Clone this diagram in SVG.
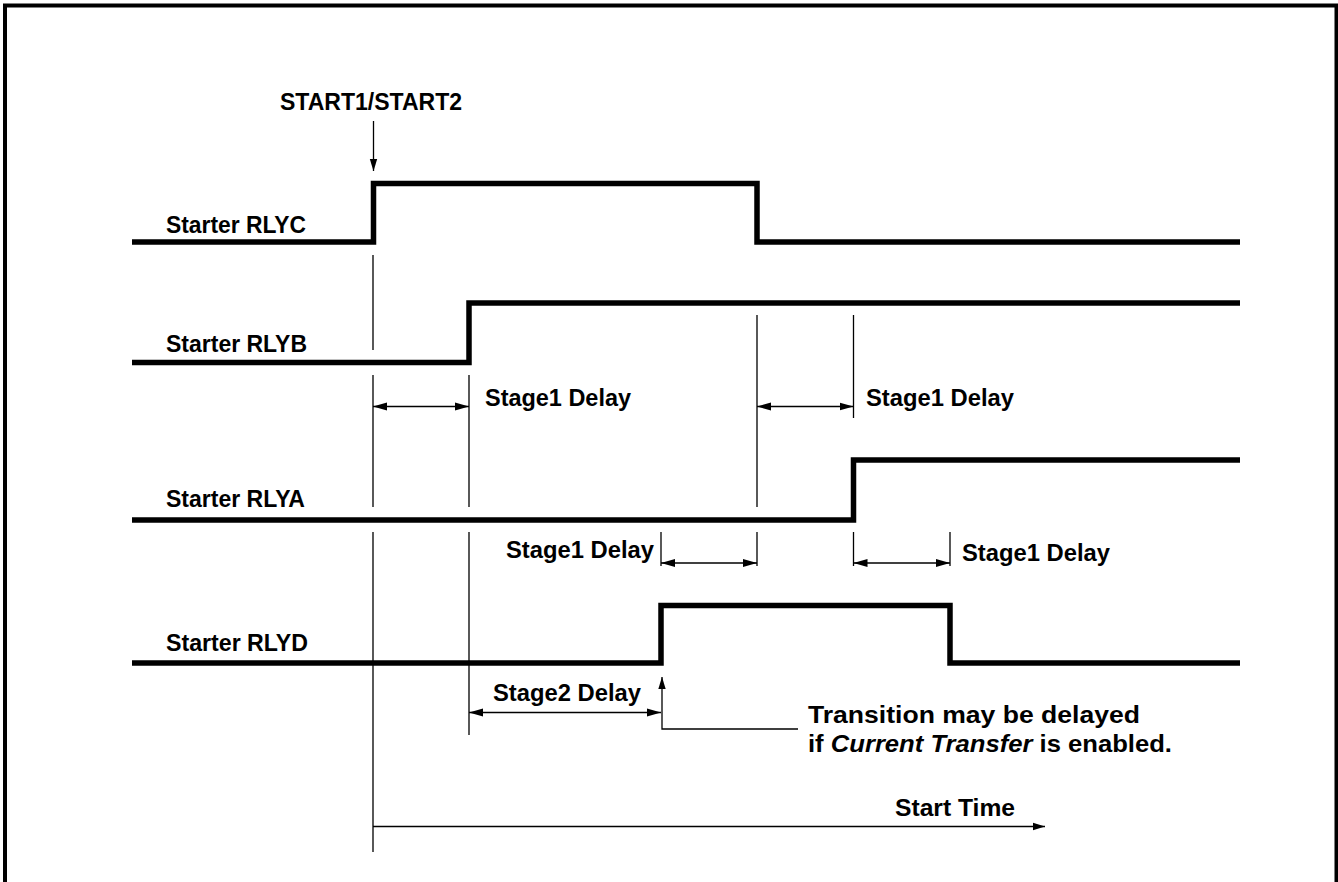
<svg xmlns="http://www.w3.org/2000/svg" width="1338" height="882" viewBox="0 0 1338 882">
<style>
.sig{fill:none;stroke:#000;stroke-width:5.5;stroke-linejoin:miter;stroke-linecap:butt}
.thin{fill:none;stroke:#000;stroke-width:1.3}
.t{font-family:"Liberation Sans",Arial,sans-serif;font-weight:bold;font-size:24px;fill:#000}
.it{font-style:italic}
</style>
<defs>
<marker id="ah" markerUnits="userSpaceOnUse" markerWidth="15" markerHeight="9" refX="14" refY="4.5" orient="auto-start-reverse" viewBox="0 0 15 9">
<path d="M0,0.5 L14,4.5 L0,8.5 z" fill="#000"/>
</marker>
<marker id="ah2" markerUnits="userSpaceOnUse" markerWidth="13" markerHeight="9" refX="12" refY="4.5" orient="auto" viewBox="0 0 13 9">
<path d="M0,0.8 L12,4.5 L0,8.2 z" fill="#000"/>
</marker>
</defs>
<rect width="1338" height="882" fill="#fff"/>
<path id="frame" d="M5,890 V5.5 H1336.5 V890" fill="none" stroke="#000" stroke-width="4"/>

<g id="trigger">
<text class="t" x="280" y="110" textLength="182" lengthAdjust="spacingAndGlyphs">START1/START2</text>
</g>

<g id="rlyc">
<text class="t" x="166" y="233" textLength="140" lengthAdjust="spacingAndGlyphs">Starter RLYC</text>
<path class="sig" d="M132,242 H373.5 V183.5 H757 V242 H1240"/>
</g>
<g id="rlyb">
<text class="t" x="166" y="352" textLength="141" lengthAdjust="spacingAndGlyphs">Starter RLYB</text>
<path class="sig" d="M132,362.5 H469 V303 H1240"/>
</g>
<g id="rlya">
<text class="t" x="166" y="507" textLength="139" lengthAdjust="spacingAndGlyphs">Starter RLYA</text>
<path class="sig" d="M132,520 H853.5 V460 H1240"/>
</g>
<g id="rlyd">
<text class="t" x="166" y="651" textLength="142" lengthAdjust="spacingAndGlyphs">Starter RLYD</text>
<path class="sig" d="M132,663 H661 V605.5 H950 V663 H1240"/>
</g>

<g id="labels">
<text class="t" x="485" y="406" textLength="146" lengthAdjust="spacingAndGlyphs">Stage1 Delay</text>
<text class="t" x="866" y="406" textLength="148" lengthAdjust="spacingAndGlyphs">Stage1 Delay</text>
<text class="t" x="506" y="558" textLength="148" lengthAdjust="spacingAndGlyphs">Stage1 Delay</text>
<text class="t" x="962" y="561" textLength="148" lengthAdjust="spacingAndGlyphs">Stage1 Delay</text>
<text class="t" x="493" y="701" textLength="148" lengthAdjust="spacingAndGlyphs">Stage2 Delay</text>
<text class="t" x="808" y="723" textLength="332" lengthAdjust="spacingAndGlyphs">Transition may be delayed</text>
<text class="t" x="808" y="752" textLength="364" lengthAdjust="spacingAndGlyphs">if <tspan class="it">Current Transfer</tspan> is enabled.</text>
<text class="t" x="895" y="816" textLength="120" lengthAdjust="spacingAndGlyphs">Start Time</text>
</g>

<g id="connectors">
<!-- extension lines -->
<path class="thin" d="M373,255 V350 M373,375 V507 M373,532 V852"/>
<path class="thin" d="M469,375 V507 M469,532 V735"/>
<path class="thin" d="M757,315 V507 M757,532 V566"/>
<path class="thin" d="M853.5,315 V418 M853.5,532 V566"/>
<path class="thin" d="M661,532 V566"/>
<path class="thin" d="M950,532 V566"/>
<!-- trigger arrow -->
<line class="thin" x1="373.5" y1="121" x2="373.5" y2="171" marker-end="url(#ah2)"/>
<!-- dimension arrows -->
<line class="thin" x1="373" y1="406.5" x2="469" y2="406.5" marker-start="url(#ah)" marker-end="url(#ah)"/>
<line class="thin" x1="757" y1="406.5" x2="853.5" y2="406.5" marker-start="url(#ah)" marker-end="url(#ah)"/>
<line class="thin" x1="661" y1="563" x2="757" y2="563" marker-start="url(#ah)" marker-end="url(#ah)"/>
<line class="thin" x1="853.5" y1="563" x2="950" y2="563" marker-start="url(#ah)" marker-end="url(#ah)"/>
<line class="thin" x1="469" y1="712.5" x2="661" y2="712.5" marker-start="url(#ah)" marker-end="url(#ah)"/>
<!-- transition note -->
<path class="thin" d="M798,729 H662 V677" marker-end="url(#ah2)"/>
<!-- start time -->
<line class="thin" x1="373" y1="826.5" x2="1045" y2="826.5" marker-end="url(#ah2)"/>
</g>
</svg>
